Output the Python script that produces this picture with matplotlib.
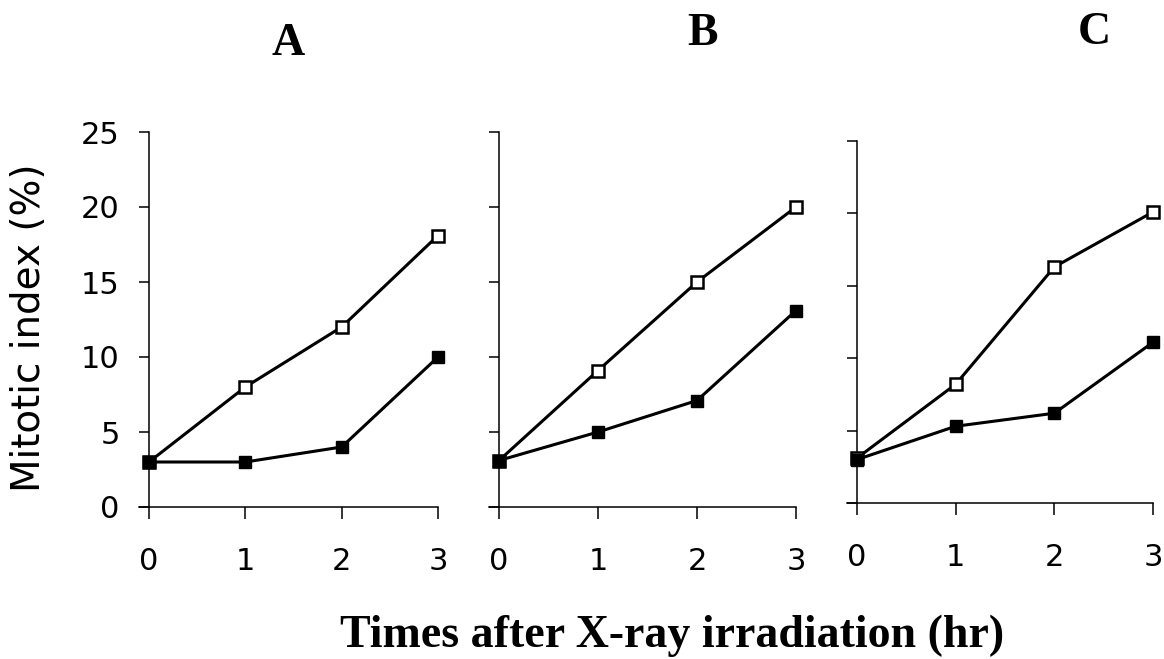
import numpy as np
import matplotlib
matplotlib.use("Agg")
import matplotlib.pyplot as plt


hours = [0, 1, 2, 3]
panel_names = ["A", "B", "C"]

# open squares
open_A = [3.0, 8.0, 12.0, 18.1]
open_B = [3.1, 9.1, 15.0, 20.0]
open_C = [3.1, 8.2, 16.3, 20.1]

# filled squares
filled_A = [3.0, 3.0, 4.0, 10.0]
filled_B = [3.1, 5.0, 7.1, 13.1]
filled_C = [3.0, 5.3, 6.2, 11.1]

y_ticks = [0, 5, 10, 15, 20, 25]


def main():
    W, H = 1164, 659
    fig = plt.figure(figsize=(W / 100, H / 100), dpi=100)

    # pixel boxes of each panel: y-axis x, right end x, y of 0, y of 25
    boxes = [(149, 438, 507, 132), (499, 796, 507, 132), (857, 1153, 503, 141)]
    opens = [open_A, open_B, open_C]
    filleds = [filled_A, filled_B, filled_C]
    title_pos = [(288, 44), (703, 34), (1094, 33)]

    for i in range(3):
        x0, x1, yb, yt = boxes[i]
        ext = 10  # bottom line sticks out left of the y axis
        ax = fig.add_axes([(x0 - ext) / W, 1 - yb / H, (x1 - x0 + ext) / W, (yb - yt) / H])
        unit = (x1 - x0) / 3.0
        ax.set_xlim(-ext / unit, 3)
        ax.set_ylim(0, 25)

        ax.plot(hours, opens[i], '-', color='black', lw=2.2, marker='s', ms=8.5,
                mfc='white', mec='black', mew=1.8, clip_on=False, zorder=3)
        ax.plot(hours, filleds[i], '-', color='black', lw=2.2, marker='s', ms=9,
                mfc='black', mec='black', clip_on=False, zorder=4)

        ax.spines['top'].set_visible(False)
        ax.spines['right'].set_visible(False)
        ax.spines['left'].set_position(('data', 0))
        ax.spines['left'].set_linewidth(1.1)
        ax.spines['bottom'].set_linewidth(1.1)

        ax.set_xticks(hours)
        ax.set_xticklabels([str(h) for h in hours], fontsize=22, family='DejaVu Sans')
        ax.set_yticks(y_ticks)
        if i == 0:
            ax.set_yticklabels([str(v) for v in y_ticks], fontsize=22, family='DejaVu Sans')
        else:
            ax.set_yticklabels([])
        ax.tick_params(axis='x', direction='out', length=8.5, width=1.1, pad=20)
        ax.tick_params(axis='y', direction='out', length=7, width=1.1, pad=14)

        tx, ty = title_pos[i]
        fig.text(tx / W, 1 - ty / H, panel_names[i], ha='center', va='center',
                 fontsize=33, fontweight='bold', family='Liberation Serif')

    fig.text(29 / W, 1 - 328 / H, "Mitotic index (%)", rotation=90, ha='center', va='center',
             fontsize=28, family='DejaVu Sans')
    fig.text(672 / W, 1 - 647 / H, "Times after X-ray irradiation (hr)", ha='center', va='baseline',
             fontsize=33, fontweight='bold', family='Liberation Serif')

    fig.savefig("out.png", dpi=100)


if __name__ == "__main__":
    main()
